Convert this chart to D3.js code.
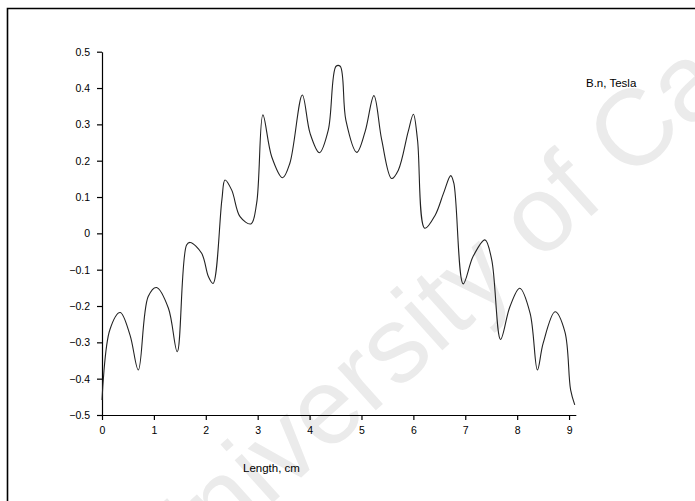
<!DOCTYPE html>
<html>
<head>
<meta charset="utf-8">
<script src="https://cdn.jsdelivr.net/npm/d3@7"></script>
<style>
  html, body { margin: 0; padding: 0; background: #fff; }
  svg { display: block; }
  text { font-family: "Liberation Sans", Arial, sans-serif; }
</style>
</head>
<body>
<svg id="chart" width="695" height="501"></svg>
<script>
// ---- data ----
const lengthCm = [0.00, 0.15, 0.35, 0.54, 0.70, 0.89, 1.05, 1.28, 1.45, 1.63, 1.70, 1.92, 2.05, 2.14,
  2.31, 2.37, 2.50, 2.66, 2.87, 2.98, 3.10, 3.27, 3.48, 3.62, 3.86, 4.01, 4.19, 4.36, 4.51, 4.59,
  4.70, 4.91, 5.07, 5.24, 5.39, 5.58, 5.71, 5.90, 6.00, 6.08, 6.22, 6.42, 6.58, 6.72, 6.78, 6.96,
  7.15, 7.38, 7.51, 7.68, 7.86, 8.05, 8.25, 8.39, 8.50, 8.73, 8.92, 9.03, 9.11];
const bTesla = [-0.459, -0.266, -0.218, -0.280, -0.376, -0.174, -0.149, -0.206, -0.326, -0.032, -0.025, -0.055, -0.119, -0.138,
  0.092, 0.147, 0.119, 0.046, 0.026, 0.083, 0.326, 0.211, 0.153, 0.193, 0.381, 0.275, 0.222, 0.284, 0.460, 0.460,
  0.311, 0.223, 0.280, 0.379, 0.257, 0.151, 0.174, 0.280, 0.328, 0.257, 0.014, 0.050, 0.110, 0.159, 0.138, -0.139,
  -0.064, -0.018, -0.073, -0.292, -0.202, -0.151, -0.220, -0.376, -0.303, -0.216, -0.271, -0.431, -0.472];
const xTicks = [0, 1, 2, 3, 4, 5, 6, 7, 8, 9];
const yTicks = [-0.5, -0.4, -0.3, -0.2, -0.1, 0, 0.1, 0.2, 0.3, 0.4, 0.5];
const seriesName = "B.n, Tesla";
const xTitle = "Length, cm";
const watermark = "University of Cape Town";

const svg = d3.select("#chart");

// watermark (faint, behind everything)
svg.append("text")
  .attr("transform", "translate(165,600) rotate(-42)")
  .attr("font-size", 108)
  .attr("fill", "#ebebeb")
  .text(watermark);

// frame (top and left edges)
svg.append("path")
  .attr("d", "M7.5,501 V8.5 H695")
  .attr("fill", "none")
  .attr("stroke", "#000")
  .attr("stroke-width", 1.6);

const x = d3.scaleLinear().domain([0, 9.13]).range([102, 575.8]);
const y = d3.scaleLinear().domain([-0.5, 0.5]).range([415, 51.7]);

const tickFont = "Liberation Sans, Arial, sans-serif";
const xAxis = svg.append("g")
  .attr("transform", `translate(0,${y(-0.5)})`)
  .call(d3.axisBottom(x).tickValues(xTicks).tickFormat(d3.format("d")).tickSize(5).tickSizeOuter(0).tickPadding(7));
const yAxis = svg.append("g")
  .attr("transform", `translate(${x(0)},0)`)
  .call(d3.axisLeft(y).tickValues(yTicks).tickFormat(d => d === 0 ? "0" : d3.format(".1f")(d)).tickSize(5).tickSizeOuter(0).tickPadding(7));

[xAxis, yAxis].forEach(g => {
  g.select(".domain").attr("stroke", "#000").attr("stroke-width", 1.2);
  g.selectAll(".tick line").attr("stroke", "#000").attr("stroke-width", 1.2);
  g.selectAll(".tick text").attr("font-size", 10.5).attr("fill", "#000").attr("font-family", tickFont);
});

const pts = lengthCm.map((v, i) => [v, bTesla[i]]);
const line = d3.line().x(d => x(d[0])).y(d => y(d[1])).curve(d3.curveCatmullRom.alpha(0.5));
svg.append("path")
  .datum(pts)
  .attr("d", line)
  .attr("fill", "none")
  .attr("stroke", "#222")
  .attr("stroke-width", 1.1);

svg.append("text")
  .attr("x", 586).attr("y", 87)
  .attr("font-size", 11.5).attr("fill", "#000")
  .text(seriesName);

svg.append("text")
  .attr("x", 243).attr("y", 472)
  .attr("font-size", 11.5).attr("fill", "#000")
  .text(xTitle);
</script>
</body>
</html>
